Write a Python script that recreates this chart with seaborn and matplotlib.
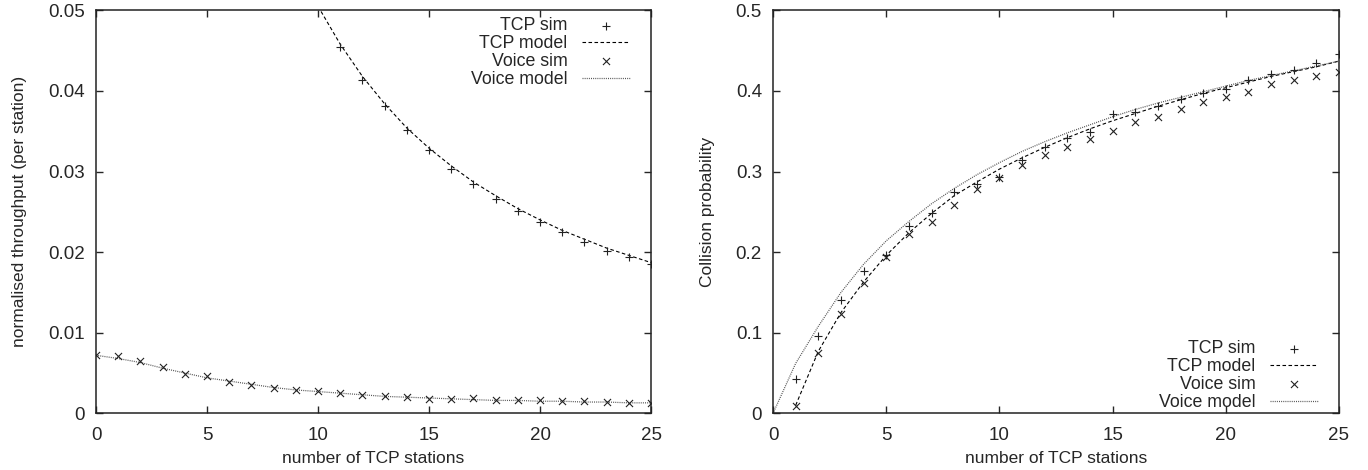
import numpy as np
import pandas as pd
import matplotlib
matplotlib.use("Agg")
import matplotlib.pyplot as plt
import seaborn as sns

# --- throughput per station (left panel) ---
tcp_sim_x = list(range(11, 26))
tcp_sim_thr = [0.0455, 0.0414, 0.0381, 0.0351, 0.0327, 0.0303, 0.0284, 0.0266,
               0.0251, 0.0237, 0.0225, 0.0213, 0.0202, 0.0194, 0.0185]
tcp_model_x = list(range(10, 26))
tcp_model_thr = [0.0505, 0.0458, 0.0418, 0.0384, 0.0354, 0.0329, 0.0307, 0.0287,
                 0.0270, 0.0254, 0.0240, 0.0227, 0.0216, 0.0205, 0.0196, 0.0187]
voice_x = list(range(0, 26))
voice_sim_thr = [0.0072, 0.0071, 0.0065, 0.0058, 0.0049, 0.0046, 0.0039, 0.0035,
                 0.0032, 0.0029, 0.0028, 0.0025, 0.0023, 0.0021, 0.0020, 0.0018,
                 0.0018, 0.0019, 0.0017, 0.0016, 0.0016, 0.0015, 0.0015, 0.0014,
                 0.0013, 0.0013]
voice_model_thr = [0.0072, 0.0068, 0.0063, 0.0056, 0.0050, 0.0044, 0.0040, 0.0036,
                   0.0032, 0.0029, 0.0027, 0.0025, 0.0023, 0.0021, 0.0020, 0.0019,
                   0.0018, 0.0017, 0.0016, 0.0016, 0.0015, 0.0015, 0.0014, 0.0014,
                   0.0013, 0.0013]

# --- collision probability (right panel) ---
sim_x = list(range(1, 26))
tcp_sim_col = [0.043, 0.096, 0.141, 0.177, 0.196, 0.233, 0.249, 0.274, 0.284, 0.293,
               0.314, 0.331, 0.342, 0.349, 0.372, 0.374, 0.381, 0.390, 0.397, 0.402,
               0.413, 0.421, 0.426, 0.435, 0.446]
voice_sim_col = [0.009, 0.075, 0.123, 0.162, 0.194, 0.223, 0.238, 0.259, 0.278, 0.292,
                 0.308, 0.320, 0.330, 0.340, 0.350, 0.361, 0.368, 0.378, 0.386, 0.392,
                 0.399, 0.408, 0.414, 0.419, 0.424]
tcp_model_col_x = list(range(1, 26))
tcp_model_col = [0.010, 0.077, 0.125, 0.163, 0.196, 0.224, 0.248, 0.270, 0.287, 0.303,
                 0.317, 0.330, 0.342, 0.353, 0.363, 0.372, 0.381, 0.389, 0.397, 0.404,
                 0.411, 0.418, 0.424, 0.430, 0.437]
voice_model_col_x = list(range(0, 26))
voice_model_col = [0.000, 0.062, 0.108, 0.150, 0.185, 0.214, 0.238, 0.260, 0.279, 0.296,
                   0.311, 0.325, 0.337, 0.348, 0.358, 0.368, 0.377, 0.385, 0.392, 0.399,
                   0.406, 0.413, 0.419, 0.425, 0.431, 0.437]

sns.set_style("ticks")
plt.rcParams["font.family"] = ["Liberation Sans", "DejaVu Sans"]
plt.rcParams["font.size"] = 13

fig = plt.figure(figsize=(13.68, 4.70), dpi=100)
ax1 = fig.add_axes([0.0702, 0.1206, 0.4057, 0.8574])
ax2 = fig.add_axes([0.5651, 0.1206, 0.4137, 0.8574])

DASH = (0, (3.2, 2.2))
DOT = (0, (0.8, 0.9))
LEGEND_KW = dict(frameon=False, markerfirst=False, fontsize=12.8,
                 handlelength=2.7, handletextpad=0.8, labelspacing=0.05,
                 borderaxespad=0.1)


def draw_panel(ax, tsx, tsy, tmx, tmy, vsx, vsy, vmx, vmy):
    sns.scatterplot(x=tsx, y=tsy, ax=ax, marker="+", s=32, color="#222222",
                    linewidth=0.8, label="TCP sim", zorder=3)
    sns.lineplot(x=tmx, y=tmy, ax=ax, color="black", linewidth=0.8,
                 linestyle=DASH, label="TCP model", zorder=2)
    sns.scatterplot(x=vsx, y=vsy, ax=ax, marker="x", s=26, color="#222222",
                    linewidth=0.8, label="Voice sim", zorder=3)
    sns.lineplot(x=vmx, y=vmy, ax=ax, color="#555555", linewidth=0.9,
                 linestyle=DOT, label="Voice model", zorder=2)
    ax.set_xlim(0, 25)
    ax.set_xticks([0, 5, 10, 15, 20, 25])
    ax.tick_params(direction="in", top=True, right=True, length=5, width=1,
                   labelsize=13.5, pad=8)
    ax.tick_params(axis="x", pad=10)
    for sp in ax.spines.values():
        sp.set_visible(True)
        sp.set_linewidth(1.1)
        sp.set_color("#222222")
    ax.set_xlabel("number of TCP stations", fontsize=12.5, labelpad=5)


draw_panel(ax1, tcp_sim_x, tcp_sim_thr, tcp_model_x, tcp_model_thr,
           voice_x, voice_sim_thr, voice_x, voice_model_thr)
ax1.set_ylim(0, 0.05)
ax1.set_yticks([0, 0.01, 0.02, 0.03, 0.04, 0.05])
ax1.set_yticklabels(["0", "0.01", "0.02", "0.03", "0.04", "0.05"])
ax1.set_ylabel("normalised throughput (per station)", fontsize=12.5, labelpad=15)
ax1.legend(loc="upper right", bbox_to_anchor=(0.978, 1.005), **LEGEND_KW)

draw_panel(ax2, sim_x, tcp_sim_col, tcp_model_col_x, tcp_model_col,
           sim_x, voice_sim_col, voice_model_col_x, voice_model_col)
ax2.set_ylim(0, 0.5)
ax2.set_yticks([0, 0.1, 0.2, 0.3, 0.4, 0.5])
ax2.set_yticklabels(["0", "0.1", "0.2", "0.3", "0.4", "0.5"])
ax2.set_ylabel("Collision probability", fontsize=12.5, labelpad=15)
ax2.legend(loc="lower right", bbox_to_anchor=(0.978, -0.016), **LEGEND_KW)

fig.savefig("out.png", dpi=100)
